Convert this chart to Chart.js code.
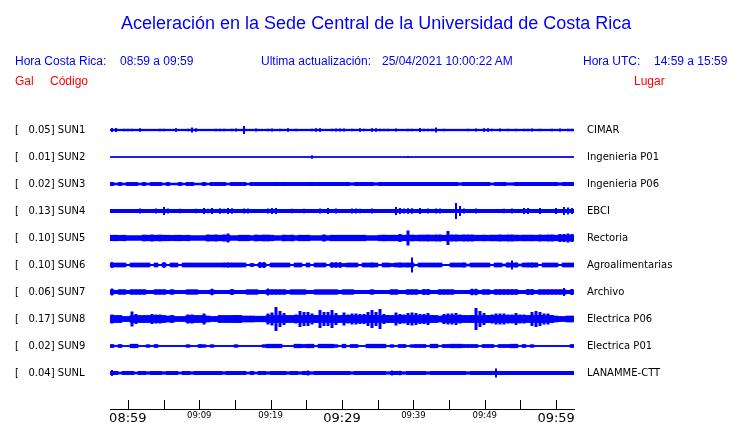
<!DOCTYPE html>
<html>
<head>
<meta charset="utf-8">
<title>Aceleración UCR</title>
<script src="https://cdn.jsdelivr.net/npm/chart.js@4.4.0/dist/chart.umd.min.js"></script>
<style>
  body { margin: 0; background: #fff; }
  #wrap { position: relative; width: 740px; height: 423px; overflow: hidden; }
  #wrap canvas { position: absolute; left: 0; top: 0; }
  .t { position: absolute; white-space: pre; line-height: 1; font-family: "Liberation Sans", Arial, sans-serif; font-size: 12px; color: #0000ff; }
  .red { color: #ff0000; }
  #titulo { font-size: 18px; left: 121px; top: 14px; }
</style>
</head>
<body>
<div id="wrap">
  <canvas id="sismo" width="740" height="423"></canvas>
  <div class="t" id="titulo">Aceleración en la Sede Central de la Universidad de Costa Rica</div>
  <div class="t" style="left:15px;top:55px">Hora Costa Rica:</div>
  <div class="t" style="left:120px;top:55px">08:59 a 09:59</div>
  <div class="t" style="left:261px;top:55px">Ultima actualización:</div>
  <div class="t" style="left:382px;top:55px">25/04/2021 10:00:22 AM</div>
  <div class="t" style="left:583px;top:55px">Hora UTC:</div>
  <div class="t" style="left:654px;top:55px">14:59 a 15:59</div>
  <div class="t red" style="left:15px;top:75px">Gal</div>
  <div class="t red" style="left:50px;top:75px">Código</div>
  <div class="t red" style="left:634px;top:75px">Lugar</div>
</div>
<script>
// estaciones
var codigos = ['SUN1', 'SUN2', 'SUN3', 'SUN4', 'SUN5', 'SUN6', 'SUN7', 'SUN8', 'SUN9', 'SUNL'];
var gal = ['0.05', '0.01', '0.02', '0.13', '0.10', '0.10', '0.06', '0.17', '0.02', '0.04'];
var lugares = ['CIMAR', 'Ingenieria P01', 'Ingenieria P06', 'EBCI', 'Rectoria', 'Agroalimentarias',
               'Archivo', 'Electrica P06', 'Electrica P01', 'LANAMME-CTT'];
var horas = ['08:59', '09:09', '09:19', '09:29', '09:39', '09:49', '09:59'];

// nivel de ruido continuo de cada traza
var bandas = [0.8, 0.5, 1.7, 1.7, 2.8, 2, 2.3, 3.5, 1.8, 1.7];

// envolvente (media amplitud) de cada traza, 116 intervalos de ~31 s
var sun1 = [2, 2, 0.8, 1.2, 1.2, 1.2, 0.8, 1.8, 0.8, 0.8,
  0.8, 0.8, 1.3, 1.3, 0.8, 0.8, 1.8, 0.8, 0.8, 1.2,
  2.5, 1.8, 0.8, 0.8, 0.8, 0.8, 1.2, 1.2, 1.2, 0.8,
  1.2, 1.5, 0.8, 4, 0.8, 0.8, 1.5, 0.8, 0.8, 1.2,
  1.5, 0.8, 1.2, 0.8, 1.8, 0.8, 1.2, 0.8, 0.8, 0.8,
  1.2, 1.8, 1.8, 0.8, 0.8, 1.2, 1.5, 1.5, 1.5, 0.8,
  1.2, 0.8, 1.8, 1.2, 0.8, 1.8, 1.8, 1.2, 1.2, 1.2,
  0.8, 1.5, 0.8, 0.8, 1.2, 1.2, 0.8, 2, 1.2, 1.2,
  1.2, 2.5, 0.8, 1.2, 0.8, 0.8, 0.8, 0.8, 0.8, 1.2,
  0.8, 1.5, 0.8, 1.8, 1.8, 1.2, 0.8, 1.5, 0.8, 1.2,
  0.8, 1.2, 0.8, 1.2, 1.2, 1.5, 0.8, 1.2, 0.8, 0.8,
  1.2, 0.8, 1.5, 0.8, 1.2, 1.2];
var sun2 = [0.5, 0.5, 0.5, 0.5, 0.5, 0.5, 0.5, 0.5, 0.5, 0.5,
  0.5, 0.5, 0.5, 0.5, 0.5, 0.5, 0.5, 0.5, 0.5, 0.5,
  0.5, 0.5, 0.5, 0.5, 0.5, 0.5, 0.5, 0.5, 0.5, 0.5,
  0.5, 0.5, 0.5, 0.5, 0.5, 0.5, 0.5, 0.5, 0.5, 0.5,
  0.5, 0.5, 0.5, 0.5, 0.5, 0.5, 0.5, 0.5, 0.5, 0.5,
  1.8, 0.5, 0.5, 0.5, 0.5, 0.5, 0.5, 0.5, 0.5, 0.5,
  0.5, 0.5, 0.5, 0.5, 0.5, 0.5, 0.5, 0.5, 0.5, 0.5,
  0.5, 0.5, 0.5, 0.5, 1.0, 0.5, 0.5, 0.5, 0.5, 0.5,
  0.5, 0.5, 0.5, 0.5, 0.5, 0.5, 0.5, 0.5, 0.5, 0.5,
  0.5, 0.5, 0.5, 0.5, 0.5, 0.5, 0.5, 0.5, 0.5, 0.5,
  0.5, 0.5, 0.5, 0.5, 0.5, 0.5, 0.5, 0.5, 0.5, 0.5,
  0.5, 0.5, 0.5, 0.5, 0.5, 0.5];
var sun3 = [1.6, 0.9, 1.6, 0.9, 1.6, 1.6, 1.6, 0.9, 1.6, 0.9,
  1.6, 1.6, 1.6, 0.9, 1.6, 0.9, 0.9, 1.6, 0.9, 1.6,
  1.6, 0.9, 0.9, 1.6, 0.9, 1.6, 1.6, 1.6, 1.6, 0.9,
  1.6, 1.6, 1.6, 1.6, 0.9, 1.6, 1.6, 1.6, 1.6, 1.6,
  1.6, 1.7, 1.6, 1.7, 1.6, 1.6, 1.7, 1.6, 1.6, 1.7,
  1.7, 1.6, 1.7, 1.7, 1.7, 1.7, 1.7, 1.7, 1.7, 1.7,
  1.2, 1.7, 1.7, 1.7, 1.7, 1.7, 1.2, 1.7, 1.7, 1.7,
  1.7, 1.7, 1.7, 1.7, 1.7, 1.7, 1.7, 1.7, 1.7, 1.7,
  1.7, 1.7, 1.7, 1.7, 1.7, 1.7, 1.7, 1.2, 1.7, 1.7,
  1.7, 1.7, 1.7, 1.7, 1.7, 1.0, 1.5, 1.9, 1.9, 1.2,
  1.2, 1.7, 1.7, 1.7, 1.7, 1.7, 1.7, 1.7, 1.7, 1.7,
  1.7, 1.7, 1.2, 1.7, 1.7, 1.7];
var sun4 = [1.7, 1.7, 1.7, 1.7, 1.7, 1.7, 1.7, 2.5, 1.7, 1.7,
  1.7, 2.5, 1.7, 4, 2.5, 1.7, 1.7, 2.3, 1.7, 1.7,
  1.7, 2.3, 1.7, 3, 2.3, 3, 1.7, 2.8, 2.3, 3,
  2.8, 1.7, 1.7, 2.5, 2.5, 1.7, 1.7, 1.7, 1.7, 2.5,
  3, 3, 1.7, 1.7, 1.7, 2.3, 1.7, 1.7, 2.3, 1.7,
  1.7, 1.7, 2.5, 1.7, 3, 1.7, 2.5, 1.7, 1.7, 1.7,
  2.5, 2.5, 2.3, 1.7, 1.7, 2.5, 1.7, 1.7, 1.7, 1.7,
  1.7, 4, 3, 2.5, 2.8, 2.8, 1.7, 3, 1.7, 2.5,
  1.7, 2.5, 2.5, 1.7, 1.7, 1.7, 8, 5, 2.5, 1.7,
  1.7, 2.5, 1.7, 1.7, 1.7, 1.7, 1.7, 1.7, 2.3, 1.7,
  2.5, 1.7, 1.7, 3, 3, 1.7, 1.7, 3, 1.7, 1.7,
  1.7, 3, 1.7, 4, 3.5, 3];
var sun5 = [2.8, 2.8, 2.6, 2.8, 2.3, 2.3, 2.3, 2.3, 3.3, 3,
  3.5, 3, 3.3, 2.8, 2.8, 2.6, 2.8, 2.8, 2.6, 3,
  2.3, 2.3, 2.3, 2.3, 3.5, 3.2, 3.5, 3, 3.5, 4.5,
  2.3, 2.3, 3, 2.8, 3, 2.3, 3.3, 3, 3.3, 3.3,
  3, 2.3, 2.3, 3.2, 3, 3.2, 2.3, 3, 2.8, 3,
  2.3, 2.3, 2.3, 3.5, 2.3, 3, 2.8, 3, 3, 2.8,
  3, 3, 2.8, 3, 2.3, 2.3, 2.3, 3, 3.2, 3,
  3, 3, 4, 3, 7.5, 3.3, 3, 3.3, 3.3, 3.5,
  3.2, 3.5, 3.5, 3, 7, 3.5, 3.5, 3.2, 3.5, 3.5,
  3.5, 2.8, 2.8, 3.2, 3, 3.2, 3.2, 3.5, 3.2, 3.5,
  3.5, 3.2, 3, 3.2, 3.2, 3.2, 2.8, 3.5, 3.2, 3.5,
  3.5, 3, 4, 4, 4.5, 4];
var sun6 = [3, 2, 2, 2, 0.7, 2, 2, 2, 2, 2,
  0.7, 2, 0.7, 2.8, 0.7, 2, 2, 0.7, 2, 2,
  2, 2, 2, 2, 2, 2, 2, 2, 2.3, 2.5,
  2.3, 2.3, 2.3, 2, 0.7, 1.5, 0.7, 3, 3, 0.7,
  2, 2, 2, 2, 2, 0.7, 2, 2, 0.7, 2,
  0.7, 2, 2, 2, 0.7, 2.8, 2.8, 2.8, 1.5, 2,
  2, 2, 0.7, 2, 2, 2.5, 2, 0.7, 2, 2,
  1.5, 2, 2.5, 2, 2.3, 7.5, 0.7, 2, 2, 2,
  2, 2, 2, 0.7, 0.7, 2, 2, 2, 2.5, 1,
  2, 2, 2, 2, 2, 0.7, 2, 2, 1, 2.5,
  4.5, 2.5, 1, 2, 2.3, 2.5, 2.3, 0.7, 2, 2,
  2, 2, 0.7, 2, 2, 2];
var sun7 = [3.5, 1.7, 2.5, 2.5, 1.7, 2.5, 2.5, 2.5, 2.5, 1.7,
  1.7, 2.5, 2.5, 2.5, 1.7, 2.5, 1.7, 1.7, 1.7, 2.3,
  2.3, 2.3, 1.7, 1.7, 1.7, 3.3, 1.7, 1.7, 1.7, 1.7,
  3, 1.7, 1.7, 1.7, 2.3, 2.3, 2.3, 1.7, 1.7, 3.5,
  2.5, 2.5, 2.5, 2.5, 1.7, 2.3, 2.3, 2.3, 2.3, 1.7,
  1.7, 2.3, 2.3, 2.3, 2.3, 2.3, 2.3, 1.7, 2.3, 2.3,
  2.3, 1.7, 1.7, 1.7, 1.7, 2.3, 1.7, 1.7, 1.7, 1.7,
  2.5, 2.5, 1.7, 1.7, 2.5, 2.5, 2.5, 1.7, 3, 3,
  1.7, 1.7, 2.5, 2.5, 2.5, 2.5, 1.7, 1.7, 1.7, 1.7,
  3.3, 3.3, 1.7, 2.5, 2.5, 1.7, 2.7, 2.7, 2.7, 2.7,
  2.7, 2.7, 1.7, 1.7, 3, 3, 1.7, 2.5, 2.5, 2.5,
  2.5, 2.5, 2.5, 4, 1.7, 3];
var sun8 = [4.5, 3.5, 3.5, 2.5, 2.5, 7.5, 5, 3.5, 3.5, 3.5,
  5, 4.5, 4.5, 3.5, 3, 3.5, 2.5, 2.5, 2.5, 4.5,
  4.5, 3.5, 3.5, 5.5, 3, 2.5, 2.5, 3.5, 3.5, 3.5,
  3.5, 4, 4, 3, 3, 3, 2.8, 2.8, 2.8, 5.5,
  6.5, 12, 8, 6, 3.5, 3.5, 4.5, 8, 7, 7,
  5.5, 4, 9, 7, 7, 9, 6, 3.5, 6.5, 4.5,
  5.5, 5.5, 5, 5, 7, 9, 7, 10, 5, 4,
  3.5, 6.5, 5, 4.5, 6, 6.5, 6, 5, 5, 6,
  4, 3.5, 3, 5, 5.5, 5.5, 6, 4.5, 3.5, 3.5,
  4, 11, 8, 6, 4, 4.5, 5.5, 5.5, 5.5, 4.5,
  4.5, 6, 4.5, 4.5, 3.5, 7, 8, 7, 5.5, 5.5,
  4, 3, 2.5, 2.5, 3, 3];
var sun9 = [1.5, 0.6, 1.5, 0.6, 0.6, 2, 2, 0.6, 0.6, 1.3,
  0.6, 1.5, 0.6, 0.6, 0.6, 0.6, 0.6, 0.6, 0.6, 1.3,
  0.6, 0.6, 1.5, 1.3, 0.6, 1.3, 0.6, 0.6, 0.6, 0.6,
  0.6, 1.3, 0.6, 0.6, 0.6, 0.6, 0.6, 0.6, 1.3, 1.8,
  1.8, 1.8, 1.8, 0.6, 0.6, 0.6, 1.8, 1.8, 1.5, 1.8,
  1.8, 0.6, 1.8, 1.8, 1.8, 1.8, 1.3, 0.6, 1.8, 0.6,
  1.5, 1.5, 0.6, 0.6, 1.8, 1.8, 1.8, 1.8, 1.8, 0.6,
  1.3, 0.6, 1.5, 1.5, 0.6, 1.3, 1.5, 1.5, 1.5, 0.6,
  1.8, 1.8, 0.6, 1.5, 1.5, 1.8, 1.8, 1.8, 1.5, 1.5,
  1.5, 1.5, 0.6, 1.5, 1.5, 1.5, 0.6, 1.5, 1.5, 1.5,
  1.8, 1.8, 0.6, 1.5, 0.6, 1.3, 0.6, 0.6, 0.6, 0.6,
  0.6, 0.6, 0.6, 0.6, 0.6, 1.5];
var sunl = [3, 2, 1, 1.7, 1.7, 1.7, 1, 1.7, 1.7, 1.2,
  1.7, 1.7, 1.7, 1.2, 1.7, 1.7, 2, 1, 1.7, 1.7,
  1.2, 1.7, 1.7, 1.7, 1.7, 1.7, 1.7, 1.7, 1.2, 1.7,
  1.7, 1.7, 1.7, 1.7, 1, 1.7, 1, 1.7, 1.7, 1.2,
  1.7, 1.7, 1.7, 1.7, 1.2, 1.7, 1.7, 1.2, 1.7, 2.5,
  1.2, 1.7, 1.7, 1.7, 1.7, 1.7, 1.7, 1.7, 1.7, 1.7,
  1.2, 1.7, 1.7, 1.7, 1.7, 1.7, 1.7, 1.7, 1.7, 1.2,
  2.5, 1.7, 2.3, 1.2, 1.7, 1.7, 1.7, 1.7, 1.7, 1.2,
  1.7, 1.7, 1.7, 1.7, 1.7, 1.7, 1.7, 1.7, 1.7, 1.2,
  1.7, 1.7, 1.7, 1.7, 1.7, 1.7, 4.5, 1.7, 1.7, 1.7,
  1.7, 1.7, 1.7, 1.7, 2, 1.7, 2, 1.7, 1.7, 1.7,
  1.7, 1.7, 2, 1.7, 1.7, 2];

var trazas = [sun1, sun2, sun3, sun4, sun5, sun6, sun7, sun8, sun9, sunl];

var FILA = 27; // pixeles entre trazas
var anchoPico = [0.5, 0.5, 0.5, 0.5, 0.75, 0.5, 0.5, 0.75, 0.5, 0.5];
var intervalos = sun1.map(function (v, i) { return String(i); });

function barras(i, valores, ancho) {
  return {
    label: codigos[i],
    data: valores.map(function (a) { return [i - a / FILA, i + a / FILA]; }),
    backgroundColor: '#0000ff',
    borderWidth: 0,
    barPercentage: ancho,
    categoryPercentage: 1,
    xAxisID: 'xb',
    yAxisID: 'y'
  };
}

var datasets = [];
trazas.forEach(function (amp, i) {
  // banda continua a todo el ancho del intervalo
  datasets.push(barras(i, amp.map(function (a) { return Math.min(a, bandas[i]); }), 1));
  // picos angostos por encima del ruido
  datasets.push(barras(i, amp, anchoPico[i]));
});

// marcas del eje de tiempo hacia arriba
var marcasArriba = {
  id: 'marcasArriba',
  afterDraw: function (chart) {
    var x = chart.scales.x, c = chart.ctx, b = chart.chartArea.bottom;
    c.save();
    c.strokeStyle = '#000';
    c.lineWidth = 1;
    x.ticks.forEach(function (t) {
      var px = Math.round(x.getPixelForValue(t.value)) + 0.5;
      c.beginPath();
      c.moveTo(px, b);
      c.lineTo(px, b - 9);
      c.stroke();
    });
    c.restore();
  }
};

function ticksFilas(scale) {
  scale.ticks = codigos.map(function (c, i) { return { value: i }; });
}

new Chart(document.getElementById('sismo'), {
  type: 'bar',
  data: { labels: intervalos, datasets: datasets },
  options: {
    responsive: false,
    animation: false,
    layout: { padding: { top: 103, left: 15, right: 0, bottom: 0 } },
    plugins: { legend: { display: false }, tooltip: { enabled: false } },
    datasets: { bar: { grouped: false } },
    scales: {
      xb: { type: 'category', display: false, offset: true },
      x: {
        type: 'linear', position: 'bottom', min: 0, max: 60,
        grid: { drawOnChartArea: false, drawTicks: false },
        border: { display: true, color: '#000', width: 1 },
        ticks: {
          stepSize: 5, autoSkip: false, maxRotation: 0, padding: 2, color: '#000',
          callback: function (v) { return v % 10 === 0 ? horas[v / 10] : ''; },
          font: function (ctx) {
            var grande = ctx.tick && ctx.tick.value % 30 === 0;
            return { family: 'DejaVu Sans', size: grande ? 13 : 8.5 };
          }
        },
        afterFit: function (s) { s.height = 14; }
      },
      y: {
        type: 'linear', position: 'left', reverse: true, min: -1, max: 10 + 1 / 3,
        grid: { display: false }, border: { display: false },
        afterBuildTicks: ticksFilas,
        ticks: {
          crossAlign: 'far', padding: 0, color: '#000', autoSkip: false,
          font: { family: 'DejaVu Sans', size: 10 },
          callback: function (v) { return '[   ' + gal[v] + '] ' + codigos[v]; }
        },
        afterFit: function (s) { s.width = 95; }
      },
      y2: {
        type: 'linear', position: 'right', reverse: true, min: -1, max: 10 + 1 / 3,
        grid: { display: false, drawTicks: true, tickLength: 13 }, border: { display: false },
        afterBuildTicks: ticksFilas,
        ticks: {
          padding: 0, color: '#000', autoSkip: false,
          font: { family: 'DejaVu Sans', size: 10 },
          callback: function (v) { return lugares[v]; }
        },
        afterFit: function (s) { s.width = 166; }
      }
    }
  },
  plugins: [marcasArriba]
});
</script>
</body>
</html>
